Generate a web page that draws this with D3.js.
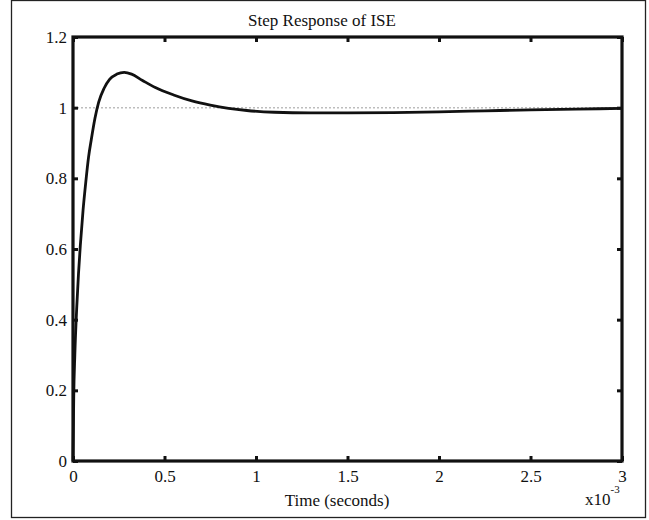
<!DOCTYPE html>
<html>
<head>
<meta charset="utf-8">
<script src="https://cdnjs.cloudflare.com/ajax/libs/d3/7.8.5/d3.min.js"></script>
<style>
    body { margin: 0; background: #fff; }
    svg text { font-family: "Liberation Serif", "Times New Roman", serif; fill: #111; }
</style>
</head>
<body>
<div class="chart"></div>
<script>
// time in units of 1e-3 s
var timeMs = [0, 0.004, 0.01, 0.02, 0.03, 0.04, 0.055, 0.07, 0.085, 0.1, 0.12, 0.14, 0.17, 0.2,
    0.24, 0.28, 0.32, 0.38, 0.45, 0.55, 0.65, 0.75, 0.85, 0.95, 1.1, 1.3, 1.5, 1.75, 2.0, 2.25, 2.5, 2.75, 3.0];
var amplitude = [0, 0.18, 0.3, 0.43, 0.53, 0.61, 0.71, 0.79, 0.86, 0.91, 0.97, 1.015, 1.055, 1.08,
    1.095, 1.1, 1.095, 1.077, 1.057, 1.036, 1.019, 1.007, 0.998, 0.992, 0.987, 0.985, 0.985, 0.986, 0.988, 0.991, 0.994, 0.996, 0.998];
var xTicks = [0, 0.5, 1, 1.5, 2, 2.5, 3];
var yTicks = [0, 0.2, 0.4, 0.6, 0.8, 1, 1.2];
var refLevel = [1];

var data = timeMs.map(function (t, i) { return {t: t, v: amplitude[i]}; });

var width = 649, height = 520;
var margin = {top: 37, right: 27, bottom: 59, left: 73},
    innerW = width - margin.left - margin.right,
    innerH = height - margin.top - margin.bottom;

var svg = d3.select(".chart").append("svg")
    .attr("width", width)
    .attr("height", height);

// outer frame of the figure
svg.append("rect")
    .attr("x", 11.5).attr("y", 0.5)
    .attr("width", 634).attr("height", 517)
    .attr("fill", "none")
    .attr("stroke", "#222")
    .attr("stroke-width", 1.3);

var g = svg.append("g")
    .attr("transform", "translate(" + margin.left + "," + margin.top + ")");

// Scales
var x = d3.scaleLinear().domain([0, 3]).range([0, innerW]);
var y = d3.scaleLinear().domain([0, 1.2]).range([innerH, 0]);

// dotted reference at 1
g.selectAll(".ref").data(refLevel).enter().append("line")
    .attr("class", "ref")
    .attr("x1", 0).attr("x2", innerW)
    .attr("y1", function (d) { return y(d); })
    .attr("y2", function (d) { return y(d); })
    .attr("stroke", "#bdbdbd")
    .attr("stroke-width", 1.5)
    .attr("stroke-dasharray", "2,2");

// the response
var line = d3.line()
    .x(function (d) { return x(d.t); })
    .y(function (d) { return y(d.v); })
    .curve(d3.curveMonotoneX);

g.append("path")
    .datum(data)
    .attr("d", line)
    .attr("fill", "none")
    .attr("stroke", "#111")
    .attr("stroke-width", 2.8);

// Axes, ticks inward on all four sides
function styleAxis(sel) {
    sel.select(".domain").remove();
    sel.selectAll(".tick line").attr("stroke", "#111").attr("stroke-width", 3);
    sel.selectAll("text").style("font-size", "17px");
}

g.append("g")
    .attr("transform", "translate(0," + innerH + ")")
    .call(d3.axisBottom(x).tickValues(xTicks).tickSize(-5).tickPadding(9)
        .tickFormat(function (d) { return d; }))
    .call(styleAxis);

g.append("g")
    .call(d3.axisTop(x).tickValues(xTicks).tickSize(-5).tickFormat(""))
    .call(styleAxis);

g.append("g")
    .call(d3.axisLeft(y).tickValues(yTicks).tickSize(-5).tickPadding(6)
        .tickFormat(function (d) { return d; }))
    .call(styleAxis)
    .selectAll("text").attr("dy", "0.32em");

g.append("g")
    .attr("transform", "translate(" + innerW + ",0)")
    .call(d3.axisRight(y).tickValues(yTicks).tickSize(-5).tickFormat(""))
    .call(styleAxis);

// plot box
g.append("rect")
    .attr("width", innerW).attr("height", innerH)
    .attr("fill", "none")
    .attr("stroke", "#111")
    .attr("stroke-width", 3.2);

// Labels
svg.append("text")
    .attr("x", 322).attr("y", 26)
    .attr("text-anchor", "middle")
    .style("font-size", "17px")
    .text("Step Response of ISE");

svg.append("text")
    .attr("x", 337).attr("y", 506)
    .attr("text-anchor", "middle")
    .style("font-size", "17px")
    .text("Time (seconds)");

var mult = svg.append("text")
    .attr("x", 585).attr("y", 505)
    .style("font-size", "17px");
mult.append("tspan").text("x10");
mult.append("tspan").attr("dy", -12).style("font-size", "11px").text("-3");
</script>
</body>
</html>
